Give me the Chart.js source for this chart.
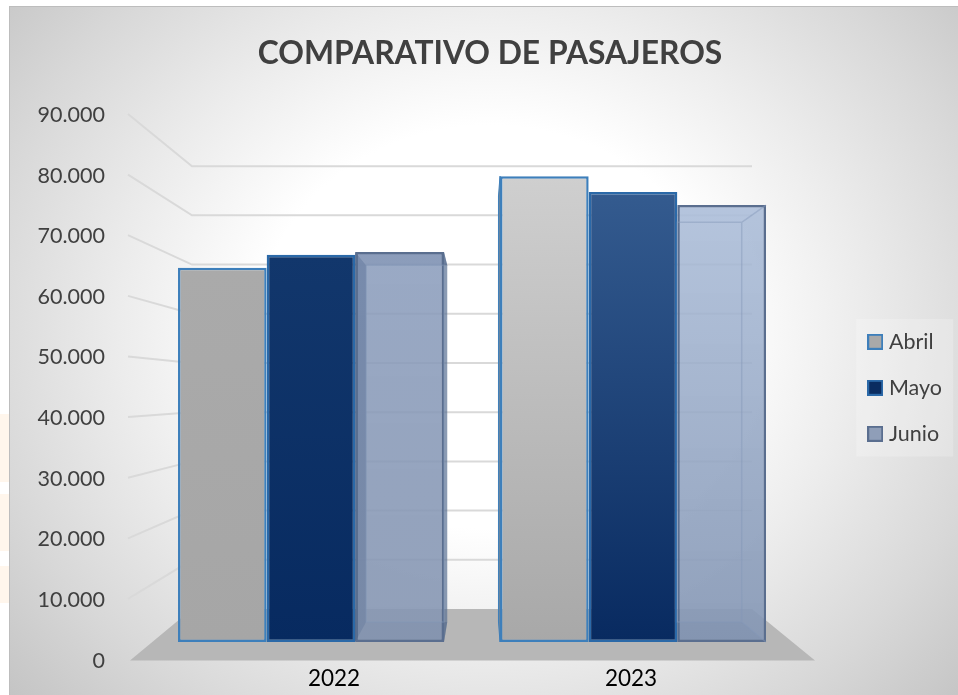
<!DOCTYPE html>
<html>
<head>
<meta charset="utf-8">
<style>
html,body{margin:0;padding:0;width:958px;height:695px;background:#fff;overflow:hidden}
#frame{position:absolute;left:9px;top:6px;width:949px;height:689px;box-sizing:border-box;border-left:1px solid #bdbdbd;border-top:1px solid #bdbdbd;
background:radial-gradient(ellipse 640px 560px at 480px 320px,#fff 0%,#fff 36%,#ececec 58%,#d8d8d8 80%,#c4c4c4 100%)}
.wm{position:absolute;left:0;width:9px;background:#fff6ec}
canvas{position:absolute;left:0;top:0}
</style>
<script src="https://cdn.jsdelivr.net/npm/chart.js@4"></script>
</head>
<body>
<div class="wm" style="top:414px;height:68px"></div>
<div class="wm" style="top:494px;height:57px"></div>
<div class="wm" style="top:566px;height:37px"></div>
<div id="frame"></div>
<canvas id="c" width="958" height="695"></canvas>
<script>
const chartTitle = 'COMPARATIVO DE PASAJEROS';
const categories = ['2022', '2023'];
const seriesNames = ['Abril', 'Mayo', 'Junio'];
const abril = [66100, 82300];
const mayo = [68400, 79500];
const junio = [68900, 77200];
const tickValues = [0, 10000, 20000, 30000, 40000, 50000, 60000, 70000, 80000, 90000];

const FONT = 'Lato, Carlito, Calibri, sans-serif';
const DEPTH = 0.0855;
const VANISH_Y = 408;
const vanishX = a => (a.left + a.right) / 2 + 10;

function vGrad(ctx, y0, y1, stops) {
  const g = ctx.createLinearGradient(0, y0, 0, y1);
  stops.forEach((c, i) => g.addColorStop(i / (stops.length - 1), c));
  return g;
}
const fills = {
  Abril: [['#aaaaaa', '#a6a6a6'], ['#cfcfcf', '#a8a8a8']],
  Mayo:  [['#12376c', '#072a60'], ['#345b8f', '#082a60']],
  Junio: [['rgba(136,154,186,0.80)', 'rgba(132,148,176,0.85)'], ['rgba(170,188,216,0.80)', 'rgba(130,148,178,0.85)']]
};
const swatch = { Abril: '#a9a9a9', Mayo: '#0a2c60', Junio: '#8f9eb8' };
const edges = { Abril: '#3d7fbb', Mayo: '#2b69a8', Junio: '#5a6e8f' };

function swatchImage(name) {
  const c = document.createElement('canvas');
  c.width = 16; c.height = 16;
  const x = c.getContext('2d');
  x.fillStyle = swatch[name]; x.fillRect(1, 1, 14, 14);
  x.strokeStyle = edges[name]; x.lineWidth = 2; x.strokeRect(1, 1, 14, 14);
  return c;
}
function barFill(name) {
  return function (c) {
    if (c.dataIndex === undefined || !c.chart.chartArea) return swatch[name];
    const s = c.chart.scales.yBar;
    const v = c.dataset.data[c.dataIndex];
    return vGrad(c.chart.ctx, s.getPixelForValue(v), s.getPixelForValue(0), fills[name][c.dataIndex]);
  };
}

const stagePlugin = {
  id: 'stage',
  beforeDatasetsDraw(chart) {
    const { ctx, chartArea: a, scales } = chart;
    const front = scales.y, back = scales.yBack, base = back.getPixelForValue(0);
    const vx = vanishX(a);
    const backX = x => x + (vx - x) * DEPTH;
    const backY = y => y + (VANISH_Y - y) * DEPTH;
    const wallL = a.left + 42, wallR = a.right - 42, tickX = a.left - 22;

    ctx.save();
    ctx.strokeStyle = '#d9d9d9';
    ctx.lineWidth = 2;
    tickValues.slice(1).forEach(v => {
      ctx.beginPath();
      ctx.moveTo(tickX, front.getPixelForValue(v) - 1);
      ctx.lineTo(wallL, back.getPixelForValue(v));
      ctx.lineTo(wallR, back.getPixelForValue(v));
      ctx.stroke();
    });
    ctx.fillStyle = '#b7b7b7';
    ctx.beginPath();
    ctx.moveTo(a.left - 20, front.getPixelForValue(0));
    ctx.lineTo(a.right + 21, front.getPixelForValue(0));
    ctx.lineTo(wallR, base);
    ctx.lineTo(wallL, base);
    ctx.closePath();
    ctx.fill();

    chart.getDatasetMeta(0).data.forEach(el => {
      const L = el.x - el.width / 2;
      if (L > vx) {
        ctx.fillStyle = '#8b8b8b';
        ctx.beginPath();
        ctx.moveTo(L, el.y);
        ctx.lineTo(backX(L), backY(el.y));
        ctx.lineTo(backX(L), backY(el.base));
        ctx.lineTo(L, el.base);
        ctx.closePath();
        ctx.fill();
        ctx.strokeStyle = edges.Abril;
        ctx.lineWidth = 1;
        ctx.stroke();
      }
    });

    chart.getDatasetMeta(2).data.forEach((el, i) => {
      const L = el.x - el.width / 2, R = el.x + el.width / 2, T = el.y, B = el.base;
      const bL = backX(L), bR = backX(R), bT = backY(T), bB = backY(B);
      const face = (pts, fill) => {
        ctx.fillStyle = fill;
        ctx.beginPath();
        pts.forEach((p, k) => k ? ctx.lineTo(p[0], p[1]) : ctx.moveTo(p[0], p[1]));
        ctx.closePath();
        ctx.fill();
      };
      face([[bL, bT], [bR, bT], [bR, bB], [bL, bB]], 'rgba(170,186,212,0.35)');
      face([[L, T], [R, T], [bR, bT], [bL, bT]], i ? 'rgba(196,210,232,0.55)' : 'rgba(90,112,150,0.60)');
      face([[L, B], [R, B], [bR, bB], [bL, bB]], 'rgba(112,132,162,0.55)');
      if (bL > L) face([[L, T], [bL, bT], [bL, bB], [L, B]], 'rgba(40,66,108,0.95)');
      if (bR < R) face([[R, T], [bR, bT], [bR, bB], [R, B]], 'rgba(170,188,216,0.35)');
      if (bR > R) face([[R, T], [bR, bT], [bR, bB], [R, B]], 'rgba(70,92,130,0.55)');
    });
    ctx.restore();
  },
  afterDatasetsDraw(chart) {
    const { ctx, chartArea: a } = chart;
    const vx = vanishX(a);
    const backX = x => x + (vx - x) * DEPTH;
    const backY = y => y + (VANISH_Y - y) * DEPTH;
    ctx.save();
    ctx.strokeStyle = 'rgba(130,150,185,0.45)';
    ctx.lineWidth = 1.5;
    chart.getDatasetMeta(2).data.forEach(el => {
      const L = el.x - el.width / 2, R = el.x + el.width / 2, T = el.y, B = el.base;
      const bL = Math.max(backX(L), L), bR = Math.min(backX(R), R), bT = backY(T), bB = backY(B);
      ctx.beginPath();
      ctx.moveTo(bL, bB); ctx.lineTo(bL, bT); ctx.lineTo(bR, bT); ctx.lineTo(bR, bB); ctx.closePath();
      if (backX(R) < R) { ctx.moveTo(bR, bT); ctx.lineTo(R, T); ctx.moveTo(bR, bB); ctx.lineTo(R, B); }
      ctx.stroke();
    });
    ctx.restore();
  },
  beforeDraw(chart) {
    const lg = chart.legend;
    if (!lg || !lg.legendHitBoxes.length) return;
    const h = lg.legendHitBoxes, ctx = chart.ctx;
    const x0 = h[0].left - 16, y0 = h[0].top - 12;
    const y1 = h[h.length - 1].top + h[h.length - 1].height + 12;
    ctx.save();
    ctx.fillStyle = 'rgba(255,255,255,0.22)';
    ctx.fillRect(x0, y0, 97, y1 - y0);
    ctx.restore();
  }
};

const mkDataset = (label, data) => ({
  label, data,
  xAxisID: 'x', yAxisID: 'yBar',
  backgroundColor: barFill(label),
  borderColor: edges[label],
  borderWidth: 2.5,
  borderSkipped: false,
  barPercentage: 1,
  categoryPercentage: 0.826
});

new Chart(document.getElementById('c'), {
  type: 'bar',
  data: {
    labels: categories,
    datasets: [mkDataset(seriesNames[0], abril), mkDataset(seriesNames[1], mayo), mkDataset(seriesNames[2], junio)]
  },
  plugins: [stagePlugin],
  options: {
    responsive: false,
    animation: false,
    layout: { padding: { left: 28, right: 6, top: 0, bottom: 0 } },
    plugins: {
      tooltip: { enabled: false },
      title: {
        display: true, text: chartTitle, color: '#404040',
        font: { family: FONT, size: 31.8, weight: 'bold', lineHeight: 1.2 },
        padding: { top: 35, bottom: 41.8 }
      },
      legend: {
        position: 'right', fullSize: false,
        labels: {
          color: '#404040', font: { family: FONT, size: 21.5 },
          usePointStyle: true, pointStyleWidth: 6, boxHeight: 14, padding: 24.5,
          generateLabels: () => seriesNames.map((n, i) => ({
            text: n, pointStyle: swatchImage(n), fontColor: '#404040', datasetIndex: i, hidden: false
          }))
        }
      }
    },
    scales: {
      x: { display: false, type: 'category', offset: true },
      xLabel: {
        type: 'linear', position: 'bottom', axis: 'x', offset: false,
        min: -0.6195, max: 1.5488,
        grid: { display: false, drawTicks: false }, border: { display: false },
        afterBuildTicks: s => { s.ticks = categories.map((_, i) => ({ value: i })); },
        afterFit: s => { s.height = 34.4; },
        ticks: {
          color: '#000', font: { family: FONT, size: 22.5 }, padding: 5, maxRotation: 0,
          autoSkip: false,
          callback: v => categories[v]
        }
      },
      y: {
        type: 'linear', position: 'left', min: 0, max: 90000,
        grid: { display: false, drawTicks: true, tickLength: 30 }, border: { display: false },
        afterFit: s => { s.width = 122; },
        ticks: {
          stepSize: 10000, color: '#404040', font: { family: FONT, size: 21.5 }, padding: 15,
          callback: v => v === 0 ? '0' : (v / 1000) + '.000'
        }
      },
      yBar: { type: 'linear', display: false, min: -3286, max: 93110 },
      yBack: {
        type: 'linear', position: 'right', min: -10488, max: 100407,
        grid: { display: false, drawTicks: false }, border: { display: false },
        ticks: { display: false },
        afterFit: s => { s.width = 53.7; }
      }
    }
  }
});
</script>
</body>
</html>
